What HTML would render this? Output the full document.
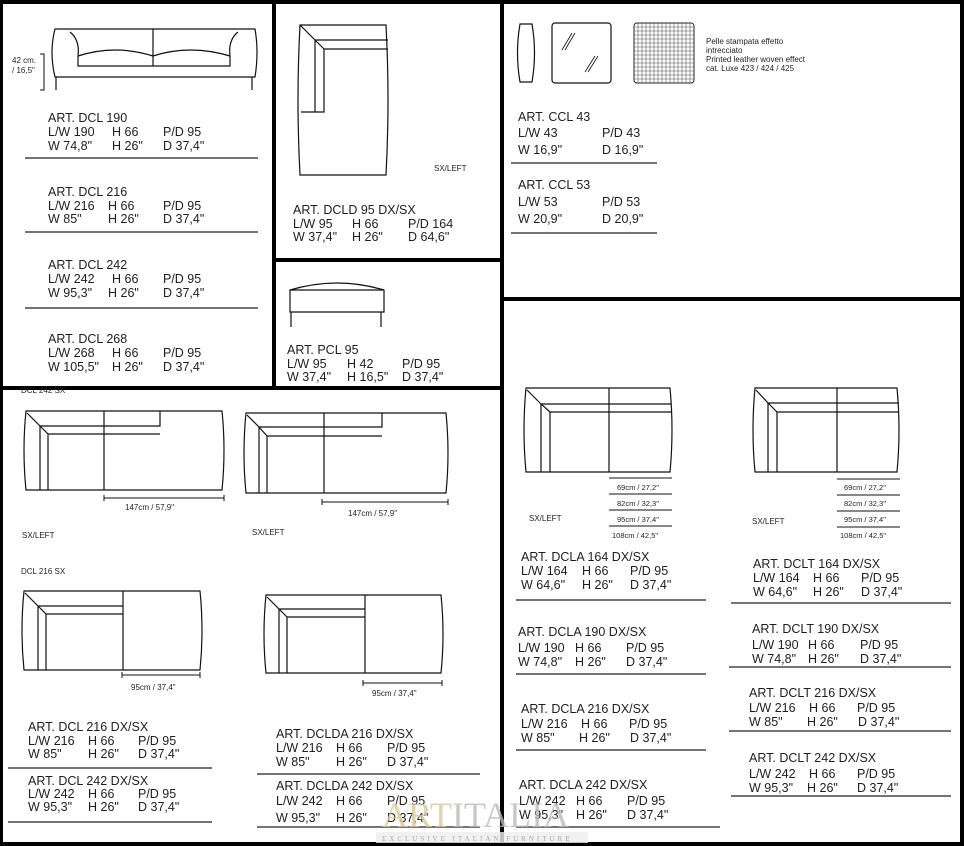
<!DOCTYPE html>
<html><head><meta charset="utf-8"><style>
html,body{margin:0;padding:0;background:#fff;}
svg{display:block;}
text{font-family:"Liberation Sans",sans-serif;fill:#1e1e1e;}
.t{font-size:12.5px;}
.s{font-size:8px;}
.d{font-size:8px;}
</style></head><body>
<svg width="964" height="846" viewBox="0 0 964 846" xmlns="http://www.w3.org/2000/svg">
<rect width="964" height="846" fill="#fff"/>
<!-- borders -->
<g fill="#000">
<rect x="0" y="0" width="964" height="4"/>
<rect x="0" y="0" width="3" height="846"/>
<rect x="960" y="0" width="4" height="846"/>
<rect x="0" y="842" width="964" height="4"/>
<rect x="272" y="0" width="4" height="388"/>
<rect x="500" y="0" width="4" height="846"/>
<rect x="274" y="258" width="228" height="4"/>
<rect x="0" y="386" width="504" height="4"/>
<rect x="502" y="297" width="460" height="4"/>
</g>

<g fill="none" stroke="#111" stroke-width="1.2">
<!-- DCL front sofa -->
<path d="M55 29 H255 Q259 52 255 77 H55 Q49 52 55 29 Z"/>
<path d="M153 29 V66"/>
<path d="M78 56 V66 H230 V56"/>
<path d="M78 56 Q115 44 153 56 Q190 44 230 56"/>
<path d="M70 32 Q80 40 78 56 M238 32 Q228 40 230 56"/>
<path d="M56 77 V90 M252 77 V90"/>
<path d="M40 54 H44 V90 H40" stroke-width="1"/>
<!-- DCLD chaise -->
<path d="M300 25 H386 Q390 100 386 175 H300 Q296 100 300 25 Z"/>
<path d="M300 25 L315 40 L324 49 M315 40 H388 M324 49 H388 M301 112 H324 V49 M315 40 V112"/>
<!-- PCL ottoman -->
<path d="M290 290 Q337 276 384 290 V312 H290 Z"/>
<path d="M290 290 H384"/>
<path d="M291 312 V327 M381 312 V327"/>
<!-- CCL cushions -->
<path d="M520 24 H532 Q537 53 532 82 H520 Q515 53 520 24 Z"/>
<rect x="552" y="23" width="59" height="60" rx="3"/>
<path d="M562 50 L572 33 M565 50 L575 33 M585 72 L595 56 M588 72 L598 56" stroke-width="0.8"/>
</g>
<!-- grid square -->
<g stroke="#555" stroke-width="0.6" fill="none">
<rect x="634" y="23" width="60" height="60" rx="3" stroke="#222" stroke-width="1"/>
<path d="M638 23V83M642 23V83M646 23V83M650 23V83M654 23V83M658 23V83M662 23V83M666 23V83M670 23V83M674 23V83M678 23V83M682 23V83M686 23V83M690 23V83M634 27H694M634 31H694M634 35H694M634 39H694M634 43H694M634 47H694M634 51H694M634 55H694M634 59H694M634 63H694M634 67H694M634 71H694M634 75H694M634 79H694"/>
</g>

<!-- bottom left sofas -->
<g fill="none" stroke="#111" stroke-width="1.2">
<path d="M26 411 H222 Q226 450 222 490 H26 Q22 450 26 411 Z"/>
<path d="M27 413 L40 426 L48 434 M40 426 H160 V411 M48 434 V490 M40 426 V490 M48 434 H160 M104 411 V490"/>
<path d="M246 413 H446 Q450 453 446 493 H246 Q242 453 246 413 Z"/>
<path d="M247 415 L259 427 L267 436 M259 427 H382 V413 M267 436 V493 M259 427 V493 M267 436 H382 M324 413 V493"/>
<path d="M24 591 H200 Q204 631 200 670 H24 Q20 631 24 591 Z"/>
<path d="M25 593 L38 606 L46 614 M38 606 H123 M46 614 H123 M38 606 V670 M46 614 V670 M123 591 V670"/>
<path d="M266 595 H441 Q445 634 441 673 H266 Q262 634 266 595 Z"/>
<path d="M267 597 L279 609 L287 617 M279 609 H365 M287 617 H365 M279 609 V673 M287 617 V673 M365 595 V673"/>
<!-- right sofas -->
<path d="M526 388 H670 Q674 430 670 472 H526 Q522 430 526 388 Z"/>
<path d="M527 390 L541 404 L550 412 M541 404 H671 M550 412 H671 M541 404 V472 M550 412 V472 M609 388 V472"/>
<path d="M755 388 H897 Q901 430 897 472 H755 Q751 430 755 388 Z"/>
<path d="M756 390 L768 403 L777 412 M768 403 H899 M777 412 H899 M768 403 V472 M777 412 V472 M837 388 V472"/>
</g>
<!-- dimension lines -->
<g stroke="#111" stroke-width="1" fill="none">
<path d="M104 498 H224 M104 495 V501 M224 495 V501"/>
<path d="M322 502 H448 M322 499 V505 M448 499 V505"/>
<path d="M122 675 H200 M122 672 V678 M200 672 V678"/>
<path d="M363 683 H442 M363 680 V686 M442 680 V686"/>
<path d="M609 478 H672 M609 494 H672 M609 510 H672 M609 526 H672"/>
<path d="M837 479 H900 M837 495 H900 M837 511 H900 M837 527 H900"/>
</g>
<g stroke="#222" stroke-width="1.2">
<path d="M25 158 H258 M25 232 H258 M25 308 H258"/>
<path d="M511 163 H657 M511 233 H657"/>
<path d="M8 768 H212 M8 822 H212 M257 774 H480 M257 827 H480"/>
<path d="M516 600 H706 M516 674 H706 M516 750 H706 M516 827 H720"/>
<path d="M731 603 H951 M729 667 H951 M729 731 H951 M731 796 H951"/>
</g>

<!-- small labels -->
<text class="s" x="12" y="63">42 cm.</text>
<text class="s" x="12" y="73">/ 16,5"</text>
<text class="d" x="434" y="171">SX/LEFT</text>
<text style="font-size:8px" x="706" y="44">Pelle stampata effetto</text>
<text style="font-size:8px" x="706" y="53">intrecciato</text>
<text style="font-size:8px" x="706" y="62">Printed leather woven effect</text>
<text style="font-size:8px" x="706" y="71">cat. Luxe 423 / 424 / 425</text>
<text class="d" x="21" y="393">DCL 242 SX</text>
<text class="d" x="125" y="510">147cm / 57,9"</text>
<text class="d" x="348" y="516">147cm / 57,9"</text>
<text class="d" x="22" y="538">SX/LEFT</text>
<text class="d" x="252" y="535">SX/LEFT</text>
<text class="d" x="21" y="574">DCL 216 SX</text>
<text class="d" x="131" y="690">95cm / 37,4"</text>
<text class="d" x="372" y="696">95cm / 37,4"</text>
<text class="d" x="529" y="521">SX/LEFT</text>
<text class="d" x="752" y="524">SX/LEFT</text>
<g class="d" style="font-size:7.5px">
<text x="617" y="490">69cm / 27,2"</text><text x="617" y="506">82cm / 32,3"</text><text x="617" y="522">95cm / 37,4"</text><text x="612" y="538">108cm / 42,5"</text>
<text x="844" y="490">69cm / 27,2"</text><text x="844" y="506">82cm / 32,3"</text><text x="844" y="522">95cm / 37,4"</text><text x="840" y="538">108cm / 42,5"</text>
</g>

<!-- spec text -->
<g class="t">
<text x="48" y="122">ART. DCL 190</text><text x="48" y="136">L/W 190</text><text x="112" y="136">H 66</text><text x="163" y="136">P/D 95</text><text x="48" y="150">W 74,8"</text><text x="112" y="150">H 26"</text><text x="163" y="150">D 37,4"</text>
<text x="48" y="196">ART. DCL 216</text><text x="48" y="210">L/W 216</text><text x="108" y="210">H 66</text><text x="163" y="210">P/D 95</text><text x="48" y="223">W 85"</text><text x="108" y="223">H 26"</text><text x="163" y="223">D 37,4"</text>
<text x="48" y="269">ART. DCL 242</text><text x="48" y="283">L/W 242</text><text x="112" y="283">H 66</text><text x="163" y="283">P/D 95</text><text x="48" y="297">W 95,3"</text><text x="108" y="297">H 26"</text><text x="163" y="297">D 37,4"</text>
<text x="48" y="343">ART. DCL 268</text><text x="48" y="357">L/W 268</text><text x="112" y="357">H 66</text><text x="163" y="357">P/D 95</text><text x="48" y="371">W 105,5"</text><text x="112" y="371">H 26"</text><text x="163" y="371">D 37,4"</text>

<text x="293" y="214">ART. DCLD 95 DX/SX</text><text x="293" y="228">L/W 95</text><text x="352" y="228">H 66</text><text x="408" y="228">P/D 164</text><text x="293" y="241">W 37,4"</text><text x="352" y="241">H 26"</text><text x="408" y="241">D 64,6"</text>
<text x="287" y="354">ART. PCL 95</text><text x="287" y="368">L/W 95</text><text x="347" y="368">H 42</text><text x="402" y="368">P/D 95</text><text x="287" y="381">W 37,4"</text><text x="347" y="381">H 16,5"</text><text x="402" y="381">D 37,4"</text>

<text x="518" y="121">ART. CCL 43</text><text x="518" y="137">L/W 43</text><text x="602" y="137">P/D 43</text><text x="518" y="154">W 16,9"</text><text x="602" y="154">D 16,9"</text>
<text x="518" y="189">ART. CCL 53</text><text x="518" y="206">L/W 53</text><text x="602" y="206">P/D 53</text><text x="518" y="223">W 20,9"</text><text x="602" y="223">D 20,9"</text>

<text x="28" y="731">ART. DCL 216 DX/SX</text><text x="28" y="745">L/W 216</text><text x="88" y="745">H 66</text><text x="138" y="745">P/D 95</text><text x="28" y="758">W 85"</text><text x="88" y="758">H 26"</text><text x="138" y="758">D 37,4"</text>
<text x="28" y="785">ART. DCL 242 DX/SX</text><text x="28" y="798">L/W 242</text><text x="88" y="798">H 66</text><text x="138" y="798">P/D 95</text><text x="28" y="811">W 95,3"</text><text x="88" y="811">H 26"</text><text x="138" y="811">D 37,4"</text>
<text x="276" y="738">ART. DCLDA 216 DX/SX</text><text x="276" y="752">L/W 216</text><text x="336" y="752">H 66</text><text x="387" y="752">P/D 95</text><text x="276" y="766">W 85"</text><text x="336" y="766">H 26"</text><text x="387" y="766">D 37,4"</text>
<text x="276" y="790">ART. DCLDA 242 DX/SX</text><text x="276" y="805">L/W 242</text><text x="336" y="805">H 66</text><text x="387" y="805">P/D 95</text><text x="276" y="822">W 95,3"</text><text x="336" y="822">H 26"</text><text x="387" y="822">D 37,4"</text>

<text x="521" y="561">ART. DCLA 164 DX/SX</text><text x="521" y="575">L/W 164</text><text x="582" y="575">H 66</text><text x="630" y="575">P/D 95</text><text x="521" y="589">W 64,6"</text><text x="582" y="589">H 26"</text><text x="630" y="589">D 37,4"</text>
<text x="518" y="636">ART. DCLA 190 DX/SX</text><text x="518" y="652">L/W 190</text><text x="575" y="652">H 66</text><text x="626" y="652">P/D 95</text><text x="518" y="666">W 74,8"</text><text x="575" y="666">H 26"</text><text x="626" y="666">D 37,4"</text>
<text x="521" y="713">ART. DCLA 216 DX/SX</text><text x="521" y="728">L/W 216</text><text x="581" y="728">H 66</text><text x="629" y="728">P/D 95</text><text x="521" y="742">W 85"</text><text x="579" y="742">H 26"</text><text x="630" y="742">D 37,4"</text>
<text x="519" y="789">ART. DCLA 242 DX/SX</text><text x="519" y="805">L/W 242</text><text x="576" y="805">H 66</text><text x="627" y="805">P/D 95</text><text x="519" y="819">W 95,3"</text><text x="576" y="819">H 26"</text><text x="627" y="819">D 37,4"</text>

<text x="753" y="568">ART. DCLT 164 DX/SX</text><text x="753" y="582">L/W 164</text><text x="813" y="582">H 66</text><text x="861" y="582">P/D 95</text><text x="753" y="596">W 64,6"</text><text x="813" y="596">H 26"</text><text x="861" y="596">D 37,4"</text>
<text x="752" y="633">ART. DCLT 190 DX/SX</text><text x="752" y="649">L/W 190</text><text x="808" y="649">H 66</text><text x="860" y="649">P/D 95</text><text x="752" y="663">W 74,8"</text><text x="808" y="663">H 26"</text><text x="860" y="663">D 37,4"</text>
<text x="749" y="697">ART. DCLT 216 DX/SX</text><text x="749" y="712">L/W 216</text><text x="809" y="712">H 66</text><text x="857" y="712">P/D 95</text><text x="749" y="726">W 85"</text><text x="807" y="726">H 26"</text><text x="858" y="726">D 37,4"</text>
<text x="749" y="762">ART. DCLT 242 DX/SX</text><text x="749" y="778">L/W 242</text><text x="809" y="778">H 66</text><text x="857" y="778">P/D 95</text><text x="749" y="792">W 95,3"</text><text x="807" y="792">H 26"</text><text x="857" y="792">D 37,4"</text>
</g>

<!-- watermark -->
<rect x="376" y="832" width="212" height="11" fill="#eee" opacity="0.8"/>
<text x="382" y="827" style="font-family:'Liberation Serif',serif;font-size:36px;fill:#d9c89a;opacity:0.8">ART</text>
<text x="452" y="827" style="font-family:'Liberation Serif',serif;font-size:36px;fill:#bbb;opacity:0.8">ITALIA</text>
<text x="382" y="841" style="font-family:'Liberation Serif',serif;font-size:7px;letter-spacing:3px;fill:#aaa">EXCLUSIVE ITALIAN FURNITURE</text>
</svg>
</body></html>
